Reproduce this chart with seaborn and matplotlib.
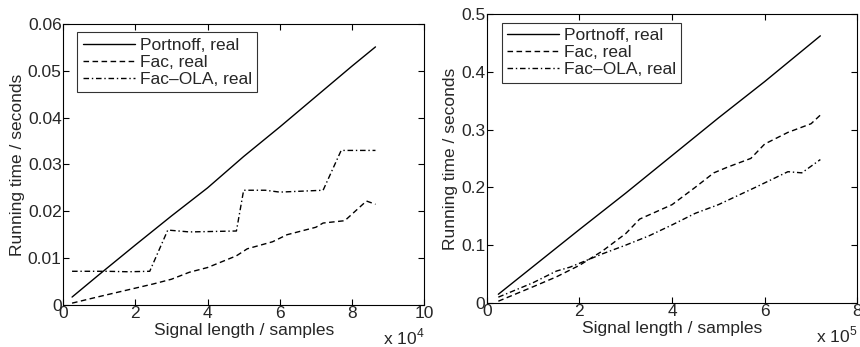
import pandas as pd
import matplotlib.pyplot as plt
import seaborn as sns
from matplotlib.ticker import FuncFormatter

# left panel: signal length in samples, running time in seconds
left_port_x = [2500, 10000, 20000, 30000, 40000, 50000, 60000, 70000, 80000, 86500]
left_port_y = [0.0017, 0.0065, 0.0128, 0.0190, 0.0250, 0.0317, 0.0380, 0.0445, 0.0510, 0.0551]
left_fac_x = [2500, 10000, 20000, 25000, 30000, 35000, 40000, 48000, 51000, 58000, 62000, 70000, 72000, 78000, 84000, 86500]
left_fac_y = [0.0004, 0.0018, 0.0036, 0.0045, 0.0055, 0.0070, 0.0080, 0.0105, 0.0120, 0.0135, 0.0150, 0.0166, 0.0175, 0.0180, 0.0222, 0.0215]
left_ola_x = [2500, 12000, 18000, 24000, 29000, 35000, 48000, 50000, 56000, 60000, 72000, 77000, 86500]
left_ola_y = [0.0072, 0.0072, 0.0071, 0.0072, 0.0160, 0.0156, 0.0158, 0.0245, 0.0245, 0.0241, 0.0245, 0.0330, 0.0330]

# right panel
right_port_x = [25000, 100000, 200000, 300000, 400000, 500000, 600000, 720000]
right_port_y = [0.015, 0.063, 0.127, 0.190, 0.255, 0.320, 0.383, 0.462]
right_fac_x = [25000, 100000, 150000, 200000, 250000, 300000, 330000, 400000, 450000, 490000, 520000, 570000, 600000, 650000, 700000, 720000]
right_fac_y = [0.003, 0.028, 0.045, 0.065, 0.090, 0.120, 0.145, 0.170, 0.200, 0.225, 0.235, 0.250, 0.275, 0.295, 0.310, 0.325]
right_ola_x = [25000, 100000, 150000, 180000, 250000, 300000, 350000, 400000, 450000, 500000, 580000, 650000, 680000, 720000]
right_ola_y = [0.010, 0.035, 0.055, 0.062, 0.085, 0.100, 0.116, 0.135, 0.155, 0.170, 0.200, 0.227, 0.225, 0.248]

labels = ['Portnoff, real', 'Fac, real', 'Fac\u2013OLA, real']


def long_table(xs, ys):
    rows = []
    for name, x, y in zip(labels, xs, ys):
        rows += [{'length': a, 'time': b, 'method': name} for a, b in zip(x, y)]
    return pd.DataFrame(rows)


left = long_table([left_port_x, left_fac_x, left_ola_x], [left_port_y, left_fac_y, left_ola_y])
right = long_table([right_port_x, right_fac_x, right_ola_x], [right_port_y, right_fac_y, right_ola_y])

sns.set_style("white")
plt.rcParams['font.family'] = ['Liberation Sans', 'DejaVu Sans']
plt.rcParams['mathtext.fontset'] = 'custom'
plt.rcParams['mathtext.rm'] = 'Liberation Sans'
fs = 12.5
plt.rcParams['font.size'] = fs

fig = plt.figure(figsize=(8.6, 3.47), dpi=100)
ax1 = fig.add_axes([0.0733, 0.121, 0.420, 0.810])
ax2 = fig.add_axes([0.566, 0.127, 0.431, 0.833])

dashes = {labels[0]: '', labels[1]: (4, 2.5), labels[2]: (4, 2, 1, 2)}
palette = {l: 'black' for l in labels}

for ax, df, xmax, ymax, step, exp, nx in [(ax1, left, 100000, 0.06, 0.01, 4, 5),
                                           (ax2, right, 800000, 0.5, 0.1, 5, 4)]:
    sns.lineplot(data=df, x='length', y='time', hue='method', style='method',
                 palette=palette, dashes=dashes, linewidth=1.0, ax=ax,
                 estimator=None, sort=False)
    ax.set_xlim(0, xmax)
    ax.set_ylim(0, ymax)
    ax.set_xticks([xmax / nx * i for i in range(nx + 1)])
    ax.set_yticks([round(step * i, 2) for i in range(int(round(ymax / step)) + 1)])
    ax.xaxis.set_major_formatter(FuncFormatter(lambda v, _, e=exp: f'{v / 10**e:g}'))
    ax.yaxis.set_major_formatter(FuncFormatter(lambda v, _: f'{v:g}'))
    ax.tick_params(direction='in', length=4, width=0.8, top=True, right=True,
                   bottom=True, left=True, labelsize=fs, pad=1, color='black')
    for s in ax.spines.values():
        s.set_color('black')
        s.set_linewidth(0.8)
    ax.set_xlabel('Signal length / samples', fontsize=fs, labelpad=1)
    ax.set_ylabel('Running time / seconds', fontsize=fs, labelpad=2)
    ax.text(1.0, -0.076, r'x 10$^{\mathrm{%d}}$' % exp, transform=ax.transAxes,
            ha='right', va='top', fontsize=fs)
    leg = ax.legend(loc='upper left', bbox_to_anchor=(0.04, 0.97), frameon=True,
                    fancybox=False, edgecolor='black', fontsize=fs,
                    handlelength=3.0, handletextpad=0.3, borderpad=0.3,
                    labelspacing=0.12, borderaxespad=0)
    leg.get_frame().set_linewidth(0.8)

plt.savefig('out.png', dpi=100)
